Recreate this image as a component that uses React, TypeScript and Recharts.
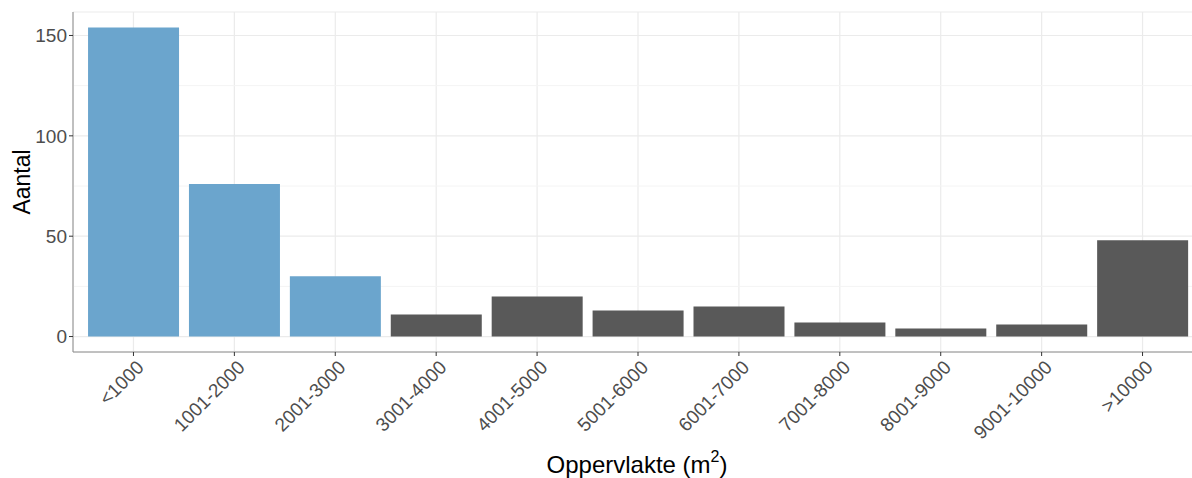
import React from "react";
import {
  BarChart,
  Bar,
  Cell,
  XAxis,
  YAxis,
  CartesianGrid,
} from "recharts";

// oppervlakte classes (m2)
const categories = [
  "<1000",
  "1001-2000",
  "2001-3000",
  "3001-4000",
  "4001-5000",
  "5001-6000",
  "6001-7000",
  "7001-8000",
  "8001-9000",
  "9001-10000",
  ">10000",
];
const counts = [154, 76, 30, 11, 20, 13, 15, 7, 4, 6, 48];
const groups = ["klein", "klein", "klein", "groot", "groot", "groot", "groot", "groot", "groot", "groot", "groot"];
const yTicks = [0, 50, 100, 150];
const yMinorTicks = [25, 75, 125];

const groupColors: Record<string, string> = {
  klein: "#6ba5cd",
  groot: "#595959",
};

const FONT = "'Liberation Sans', Arial, sans-serif";

const chartData = categories.map((cat, i) => ({
  klasse: cat,
  aantal: counts[i],
  groep: groups[i],
}));

const XTick = (props: any) => {
  const { x, y, payload } = props;
  return (
    <text
      x={0}
      y={0}
      dy="0.71em"
      transform={`translate(${x + 2},${y + 1}) rotate(-45)`}
      textAnchor="end"
      fill="#4d4d4d"
      fontSize={19}
      fontFamily={FONT}
    >
      {payload.value}
    </text>
  );
};

function App() {
  return (
    <div
      style={{
        position: "fixed",
        top: 0,
        left: 0,
        width: 1192,
        height: 478,
        overflow: "hidden",
        background: "#fff",
        fontFamily: FONT,
      }}
    >
      {/* panel runs past the right edge, like the cropped original */}
      <BarChart
        width={1220}
        height={478}
        data={chartData}
        margin={{ top: 12, right: 17, left: 0, bottom: 0 }}
        barCategoryGap="5%"
      >
        <CartesianGrid stroke="#ebebeb" strokeWidth={1.2} />
        <CartesianGrid
          stroke="#f4f4f4"
          strokeWidth={1}
          vertical={false}
          horizontalValues={yMinorTicks}
        />
        <XAxis
          dataKey="klasse"
          height={126}
          padding={{ left: 10, right: 10 }}
          tick={<XTick />}
          tickSize={4}
          tickLine={{ stroke: "#333" }}
          axisLine={{ stroke: "#8c8c8c" }}
          interval={0}
        />
        <XAxis
          xAxisId="top"
          dataKey="klasse"
          orientation="top"
          height={0}
          tick={false}
          tickLine={false}
          axisLine={{ stroke: "#8c8c8c" }}
        />
        <YAxis
          width={73}
          domain={[-7.7, 161.7]}
          ticks={yTicks}
          allowDataOverflow
          tickSize={4}
          tickMargin={2}
          tickLine={{ stroke: "#333" }}
          axisLine={{ stroke: "#8c8c8c" }}
          tick={{ fill: "#4d4d4d", fontSize: 19, fontFamily: FONT }}
        />
        <Bar dataKey="aantal" isAnimationActive={false}>
          {chartData.map((d) => (
            <Cell key={d.klasse} fill={groupColors[d.groep]} />
          ))}
        </Bar>
      </BarChart>
      <div
        style={{
          position: "absolute",
          left: 22,
          top: 182,
          transform: "translate(-50%, -50%) rotate(-90deg)",
          fontSize: 23,
          color: "#000",
          whiteSpace: "nowrap",
          lineHeight: "24px",
        }}
      >
        Aantal
      </div>
      <div
        style={{
          position: "absolute",
          left: 637,
          top: 453,
          transform: "translateX(-50%)",
          fontSize: 24,
          color: "#000",
          whiteSpace: "nowrap",
          lineHeight: "24px",
        }}
      >
        Oppervlakte (m
        <span style={{ fontSize: 16, position: "relative", top: -11 }}>2</span>)
      </div>
    </div>
  );
}

export default App;
